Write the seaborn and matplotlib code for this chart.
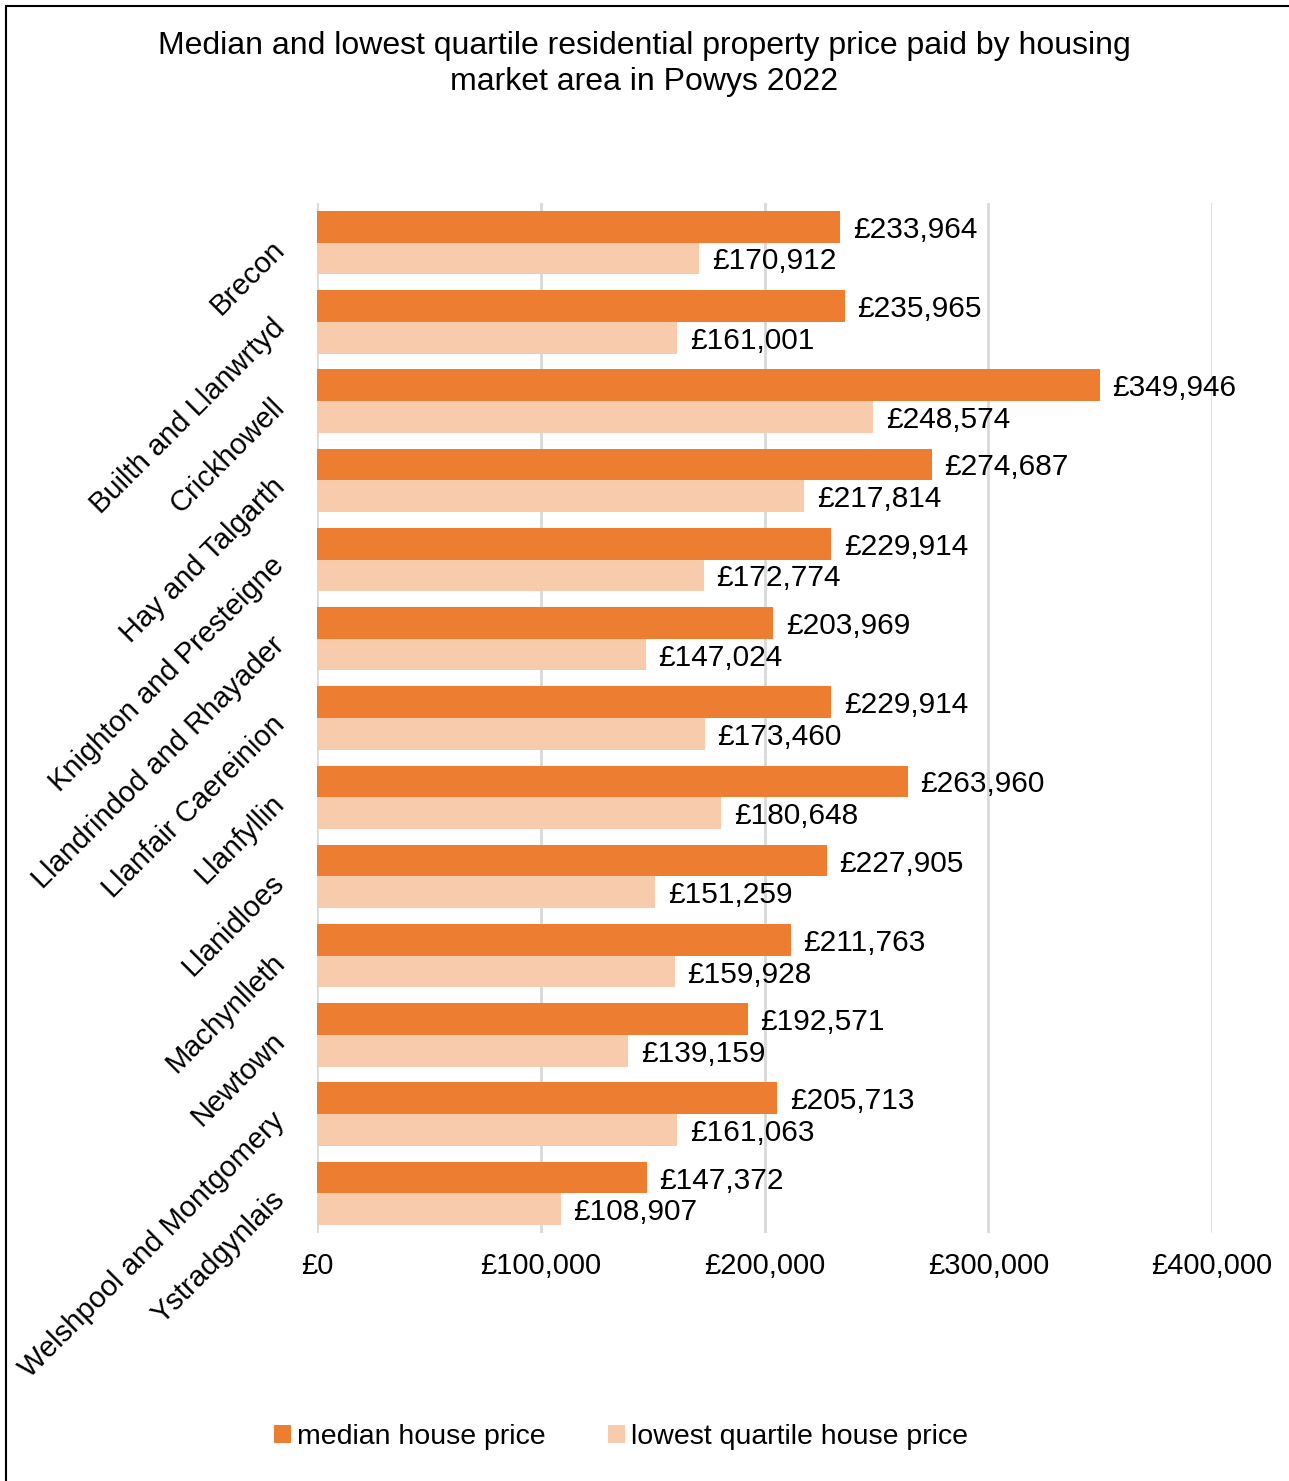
import pandas as pd
import matplotlib
matplotlib.use("Agg")
import matplotlib.pyplot as plt
from matplotlib.lines import Line2D
import seaborn as sns

# Data
areas = ["Brecon", "Builth and Llanwrtyd", "Crickhowell", "Hay and Talgarth",
	"Knighton and Presteigne", "Llandrindod and Rhayader", "Llanfair Caereinion",
	"Llanfyllin", "Llanidloes", "Machynlleth", "Newtown",
	"Welshpool and Montgomery", "Ystradgynlais"]
median_price = [233964, 235965, 349946, 274687, 229914, 203969, 229914,
	263960, 227905, 211763, 192571, 205713, 147372]
lowest_quartile_price = [170912, 161001, 248574, 217814, 172774, 147024, 173460,
	180648, 151259, 159928, 139159, 161063, 108907]
series_names = ["median house price", "lowest quartile house price"]
xticks = [0, 100000, 200000, 300000, 400000]

plot_data = pd.concat([
	pd.DataFrame({"area": areas, "price": median_price, "series": series_names[0]}),
	pd.DataFrame({"area": areas, "price": lowest_quartile_price, "series": series_names[1]}),
])

sns.set_style("white")
plt.rcParams["font.family"] = ["Liberation Sans", "DejaVu Sans"]
plt.rcParams["text.color"] = "black"
plt.rcParams["xtick.color"] = "black"
plt.rcParams["ytick.color"] = "black"

fig = plt.figure(figsize=(12.89, 14.81), dpi=100)
ax = fig.add_axes([317/1289, 1 - 1233/1481, (1212 - 317)/1289, (1233 - 203)/1481])

sns.barplot(data=plot_data, x="price", y="area", hue="series", orient="h",
	palette=["#ED7D31", "#F8CBAD"], order=areas, width=0.8, ax=ax,
	saturation=1, errorbar=None, linewidth=0, zorder=3)

for container, vals in zip(ax.containers, [median_price, lowest_quartile_price]):
	texts = ax.bar_label(container, labels=[f"£{v:,}" for v in vals], padding=9,
		fontsize=21.5)
	for t in texts:
		t.set_verticalalignment("center_baseline")

ax.set_xlim(0, 400000)
ax.set_xticks(xticks)
ax.set_xticklabels([f"£{v:,}" for v in xticks], fontsize=21)
ax.tick_params(axis="x", length=0, pad=14)
ax.tick_params(axis="y", length=0, pad=28)
ax.set_yticks(range(len(areas)))
ax.set_yticklabels(areas, rotation=45, ha="right", rotation_mode="anchor", fontsize=21)
ax.set_xlabel(None)
ax.set_ylabel(None)
ax.grid(axis="x", color="#D9D9D9", linewidth=2, zorder=0)
ax.set_axisbelow(True)
for s in ax.spines.values():
	s.set_visible(False)

ax.legend(loc="center", bbox_to_anchor=(621/1289, 1 - 1437/1481),
	bbox_transform=fig.transFigure, ncol=2, frameon=False, fontsize=20.5,
	handlelength=0.6, handleheight=0.6, handletextpad=0.2, columnspacing=2.2)

fig.text(0.5, 1 - 64/1481, "Median and lowest quartile residential property price paid by housing\nmarket area in Powys 2022",
	ha="center", va="center", fontsize=23, linespacing=1.3)

# outer frame
fig.add_artist(Line2D([6/1289, 1], [1 - 6/1481, 1 - 6/1481], color="black", linewidth=1.5))
fig.add_artist(Line2D([6/1289, 6/1289], [0, 1 - 6/1481], color="black", linewidth=1.5))

fig.savefig("out.png", dpi=100)
